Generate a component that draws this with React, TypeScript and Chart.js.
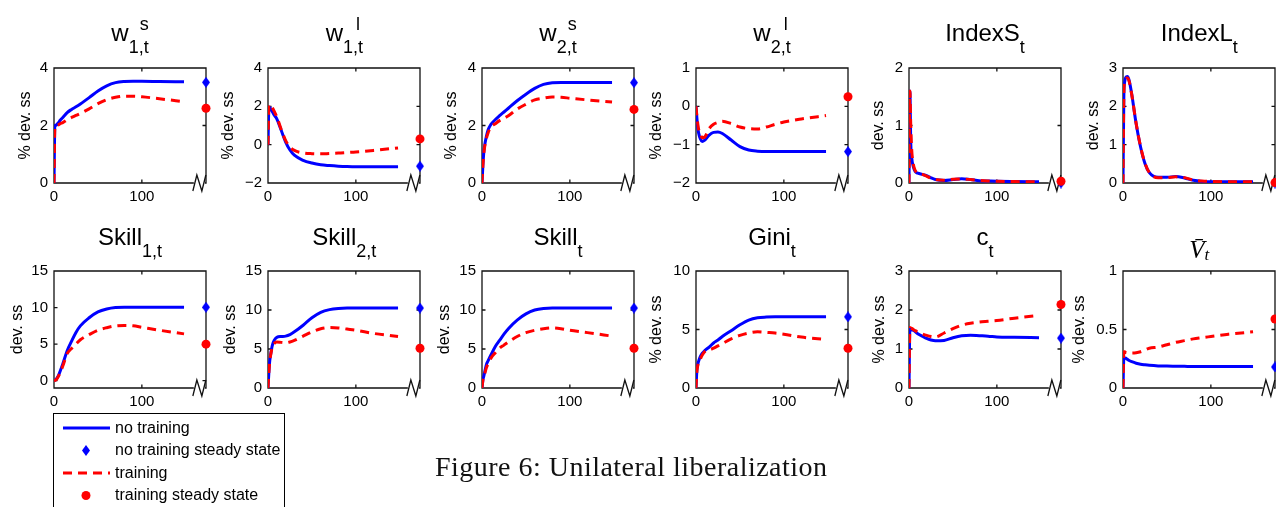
import React, { useEffect, useRef } from 'react';
import { Chart, registerables } from 'chart.js';

Chart.register(...registerables);

// ---------------- data ----------------
const T = [0, 1, 2, 3, 5, 7, 10, 15, 20, 25, 30, 40, 50, 60, 70, 80, 90, 100, 120, 148];
const X_MAX = 173;
const X_BREAK = 166;
const X_TICKS = [0, 100];

const wS1_noTraining = [0, 2.0, 2.0, 2.03, 2.1, 2.18, 2.28, 2.45, 2.56, 2.65, 2.75, 2.97, 3.2, 3.38, 3.49, 3.53, 3.54, 3.54, 3.53, 3.52];
const wS1_training = [0, 1.95, 2.0, 2.0, 2.02, 2.06, 2.1, 2.2, 2.28, 2.35, 2.42, 2.58, 2.76, 2.9, 2.98, 3.02, 3.02, 3.0, 2.93, 2.83];

const wL1_noTraining = [0, 1.9, 1.95, 1.88, 1.72, 1.55, 1.35, 0.75, 0.15, -0.28, -0.55, -0.82, -0.96, -1.05, -1.09, -1.12, -1.14, -1.15, -1.15, -1.15];
const wL1_training = [0, 2.05, 2.1, 2.05, 1.92, 1.75, 1.45, 0.8, 0.22, -0.12, -0.3, -0.43, -0.47, -0.48, -0.46, -0.44, -0.41, -0.38, -0.3, -0.17];

const wS2_noTraining = [0, 0.6, 1.05, 1.3, 1.62, 1.85, 2.03, 2.2, 2.34, 2.47, 2.6, 2.86, 3.09, 3.29, 3.43, 3.49, 3.5, 3.5, 3.5, 3.5];
const wS2_training = [0, 0.6, 1.0, 1.25, 1.55, 1.75, 1.95, 2.06, 2.17, 2.25, 2.34, 2.57, 2.74, 2.89, 2.95, 2.99, 2.98, 2.95, 2.89, 2.82];

const wL2_noTraining = [0, -0.3, -0.55, -0.7, -0.85, -0.92, -0.88, -0.75, -0.68, -0.67, -0.71, -0.88, -1.05, -1.14, -1.17, -1.18, -1.18, -1.18, -1.18, -1.18];
const wL2_training = [0, -0.25, -0.45, -0.6, -0.72, -0.82, -0.8, -0.58, -0.47, -0.42, -0.39, -0.45, -0.54, -0.58, -0.59, -0.54, -0.47, -0.41, -0.33, -0.24];

const indexS_noTraining = [0, 1.6, 0.7, 0.45, 0.28, 0.2, 0.17, 0.15, 0.13, 0.09, 0.06, 0.045, 0.06, 0.075, 0.06, 0.04, 0.035, 0.03, 0.025, 0.02];
const indexS_training = [0, 1.6, 1.0, 0.6, 0.32, 0.22, 0.17, 0.15, 0.12, 0.08, 0.06, 0.05, 0.065, 0.07, 0.06, 0.045, 0.035, 0.03, 0.025, 0.02];

const indexL_noTraining = [0, 2.3, 2.65, 2.75, 2.78, 2.68, 2.31, 1.54, 0.94, 0.51, 0.27, 0.15, 0.15, 0.17, 0.13, 0.07, 0.04, 0.03, 0.03, 0.03];
const indexL_training = [0, 2.35, 2.65, 2.72, 2.74, 2.65, 2.3, 1.55, 0.95, 0.52, 0.27, 0.14, 0.14, 0.16, 0.14, 0.08, 0.05, 0.04, 0.03, 0.03];

const skill1_noTraining = [0, 0.05, 0.15, 0.3, 0.7, 1.3, 2.3, 4.1, 5.4, 6.6, 7.5, 8.6, 9.4, 9.8, 10.0, 10.05, 10.05, 10.05, 10.05, 10.05];
const skill1_training = [0, 0.03, 0.1, 0.2, 0.6, 1.1, 2.0, 3.7, 4.4, 5.0, 5.6, 6.3, 6.9, 7.25, 7.5, 7.55, 7.5, 7.3, 6.9, 6.4];

const skill2_noTraining = [0, 2.0, 3.5, 4.3, 5.5, 6.1, 6.5, 6.6, 6.65, 6.85, 7.2, 8.05, 9.0, 9.7, 10.05, 10.2, 10.25, 10.25, 10.25, 10.25];
const skill2_training = [0, 2.0, 3.4, 4.2, 5.3, 5.7, 5.9, 5.85, 5.8, 5.9, 6.1, 6.65, 7.2, 7.6, 7.75, 7.7, 7.55, 7.4, 7.0, 6.6];

const skill_noTraining = [0, 1.0, 1.5, 2.0, 3.0, 3.5, 4.2, 5.3, 6.1, 6.9, 7.6, 8.7, 9.5, 10.0, 10.2, 10.25, 10.25, 10.25, 10.25, 10.25];
const skill_training = [0, 1.0, 1.4, 1.8, 2.6, 3.1, 3.8, 4.5, 5.1, 5.5, 5.9, 6.6, 7.1, 7.4, 7.6, 7.7, 7.6, 7.4, 7.1, 6.65];

const gini_noTraining = [0, 1.5, 2.0, 2.3, 2.7, 2.95, 3.2, 3.5, 3.85, 4.1, 4.4, 4.9, 5.4, 5.8, 6.0, 6.06, 6.08, 6.08, 6.08, 6.08];
const gini_training = [0, 1.4, 1.9, 2.2, 2.5, 2.8, 3.1, 3.25, 3.4, 3.6, 3.8, 4.2, 4.5, 4.7, 4.8, 4.75, 4.7, 4.6, 4.35, 4.15];

const c_noTraining = [0, 1.5, 1.5, 1.49, 1.48, 1.45, 1.39, 1.33, 1.27, 1.23, 1.21, 1.22, 1.29, 1.34, 1.35, 1.34, 1.33, 1.31, 1.3, 1.29];
const c_training = [0, 1.55, 1.54, 1.53, 1.5, 1.47, 1.44, 1.39, 1.35, 1.32, 1.31, 1.41, 1.52, 1.61, 1.66, 1.69, 1.71, 1.73, 1.79, 1.86];

const v_noTraining = [0, 0.26, 0.258, 0.255, 0.245, 0.235, 0.225, 0.212, 0.203, 0.198, 0.194, 0.189, 0.187, 0.186, 0.185, 0.184, 0.184, 0.183, 0.183, 0.183];
const v_training = [0, 0.31, 0.31, 0.305, 0.302, 0.3, 0.3, 0.302, 0.31, 0.325, 0.34, 0.35, 0.37, 0.39, 0.405, 0.42, 0.43, 0.44, 0.46, 0.48];

const SS_NO_TRAINING = [3.5, -1.12, 3.49, -1.18, 0.0, 0.0, 10.05, 10.25, 10.25, 6.08, 1.28, 0.18];
const SS_TRAINING = [2.6, 0.3, 2.56, 0.25, 0.03, 0.01, 5.0, 5.1, 5.1, 3.4, 2.14, 0.59];

const Y_TICKS = [
  [0, 2, 4], [-2, 0, 2, 4], [0, 2, 4], [-2, -1, 0, 1], [0, 1, 2], [0, 1, 2, 3],
  [0, 5, 10, 15], [0, 5, 10, 15], [0, 5, 10, 15], [0, 5, 10], [0, 1, 2, 3], [0, 0.5, 1],
];
const Y_MIN = [0, -2, 0, -2, 0, 0, -1, 0, 0, 0, 0, 0];
const Y_MAX = [4, 4, 4, 1, 2, 3, 15, 15, 15, 10, 3, 1];
const Y_LABELS = ['% dev. ss', '% dev. ss', '% dev. ss', '% dev. ss', 'dev. ss', 'dev. ss',
  'dev. ss', 'dev. ss', 'dev. ss', '% dev. ss', '% dev. ss', '% dev. ss'];

const TITLES = [
  { base: 'w', sup: 's', sub: '1,t' },
  { base: 'w', sup: 'l', sub: '1,t' },
  { base: 'w', sup: 's', sub: '2,t' },
  { base: 'w', sup: 'l', sub: '2,t' },
  { base: 'IndexS', sub: 't' },
  { base: 'IndexL', sub: 't' },
  { base: 'Skill', sub: '1,t' },
  { base: 'Skill', sub: '2,t' },
  { base: 'Skill', sub: 't' },
  { base: 'Gini', sub: 't' },
  { base: 'c', sub: 't' },
  { base: 'V\u0304', sub: 't', math: true },
];

const BLUE_SERIES = [wS1_noTraining, wL1_noTraining, wS2_noTraining, wL2_noTraining, indexS_noTraining, indexL_noTraining,
  skill1_noTraining, skill2_noTraining, skill_noTraining, gini_noTraining, c_noTraining, v_noTraining];
const RED_SERIES = [wS1_training, wL1_training, wS2_training, wL2_training, indexS_training, indexL_training,
  skill1_training, skill2_training, skill_training, gini_training, c_training, v_training];

const LEGEND_LABELS = ['no training', 'no training steady state', 'training', 'training steady state'];
const CAPTION = 'Figure 6: Unilateral liberalization';

// ---------------- layout / style ----------------
const COL_LEFT = [54, 268.3, 482, 696, 909, 1123.3];
const ROW_TOP = [67, 270];
const ROW_H = [116.3, 118.3];
const PLOT_W = 152;
const Y_AXIS_W = 54;
const TOP_PAD = 14;
const RIGHT_PAD = 8;
const X_AXIS_H = 26;
const YLABEL_GAP = [28.5, 39, 30, 39, 30, 29, 36, 37, 37, 39, 29.5, 43];
const TITLE_BASELINE = [40.5, 245];
const BLUE = '#0000ff';
const RED = '#ff0000';
const SANS = "'Liberation Sans', Arial, Helvetica, sans-serif";
const SERIF = "'Liberation Serif', 'Times New Roman', serif";

let measureCtx: CanvasRenderingContext2D | null = null;
function textWidth(s: string, font: string): number {
  if (!measureCtx) measureCtx = document.createElement('canvas').getContext('2d');
  if (!measureCtx) return s.length * 8;
  measureCtx.font = font;
  return measureCtx.measureText(s).width;
}

function makeDiamond(color: string, w: number, h: number) {
  const c = document.createElement('canvas');
  c.width = w;
  c.height = h;
  const g = c.getContext('2d')!;
  g.fillStyle = color;
  g.beginPath();
  g.moveTo(w / 2, 0);
  g.lineTo(w, h / 2);
  g.lineTo(w / 2, h);
  g.lineTo(0, h / 2);
  g.closePath();
  g.fill();
  return c;
}

const framePlugin = {
  id: 'frame',
  beforeDatasetsDraw(chart: any) {
    const { ctx, chartArea: a, scales } = chart;
    ctx.save();
    ctx.strokeStyle = '#111';
    ctx.lineWidth = 1.3;
    ctx.beginPath();
    ctx.rect(a.left, a.top, a.right - a.left, a.bottom - a.top);
    const tl = 3.5;
    for (const t of scales.y.ticks) {
      const py = scales.y.getPixelForValue(t.value);
      ctx.moveTo(a.left, py); ctx.lineTo(a.left + tl, py);
      ctx.moveTo(a.right, py); ctx.lineTo(a.right - tl, py);
    }
    for (const t of scales.x.ticks) {
      const px = scales.x.getPixelForValue(t.value);
      ctx.moveTo(px, a.bottom); ctx.lineTo(px, a.bottom - tl);
      ctx.moveTo(px, a.top); ctx.lineTo(px, a.top + tl);
    }
    ctx.stroke();
    // axis break mark
    const bx = scales.x.getPixelForValue(X_BREAK);
    ctx.fillStyle = '#fff';
    ctx.fillRect(bx - 6, a.bottom - 2, 11, 4);
    ctx.beginPath();
    ctx.moveTo(bx - 7, a.bottom + 8);
    ctx.lineTo(bx - 3, a.bottom - 8);
    ctx.lineTo(bx + 2, a.bottom + 8);
    ctx.lineTo(bx + 6, a.bottom - 8);
    ctx.stroke();
    ctx.restore();
  },
};

function fmt(v: number) {
  return v < 0 ? '\u2212' + String(Math.abs(v)) : String(v);
}

function Panel({ idx }: { idx: number }) {
  const ref = useRef<HTMLCanvasElement>(null);
  const row = Math.floor(idx / 6);
  const col = idx % 6;
  const plotLeft = COL_LEFT[col];
  const plotTop = ROW_TOP[row];
  const plotH = ROW_H[row];
  const cw = Math.round(Y_AXIS_W + PLOT_W + RIGHT_PAD);
  const ch = Math.round(TOP_PAD + plotH + X_AXIS_H);

  useEffect(() => {
    if (!ref.current) return;
    const diamond = makeDiamond(BLUE, 8, 11);
    const yTicks = Y_TICKS[idx];
    const chart = new Chart(ref.current, {
      type: 'line',
      data: {
        datasets: [
          {
            label: LEGEND_LABELS[3],
            data: [{ x: X_MAX, y: SS_TRAINING[idx] }],
            showLine: false,
            pointStyle: 'circle',
            pointRadius: 4.5,
            pointBackgroundColor: RED,
            pointBorderColor: RED,
            pointBorderWidth: 0,
            clip: false,
            order: 0,
          } as any,
          {
            label: LEGEND_LABELS[1],
            data: [{ x: X_MAX, y: SS_NO_TRAINING[idx] }],
            showLine: false,
            pointStyle: diamond,
            pointRadius: 5,
            clip: false,
            order: 1,
          } as any,
          {
            label: LEGEND_LABELS[2],
            data: T.map((t, i) => ({ x: t, y: RED_SERIES[idx][i] })),
            borderColor: RED,
            borderWidth: 3,
            borderDash: [9, 6],
            pointRadius: 0,
            cubicInterpolationMode: 'monotone',
            fill: false,
            order: 2,
          } as any,
          {
            label: LEGEND_LABELS[0],
            data: T.map((t, i) => ({ x: t, y: BLUE_SERIES[idx][i] })),
            borderColor: BLUE,
            borderWidth: 3,
            pointRadius: 0,
            cubicInterpolationMode: 'monotone',
            fill: false,
            order: 3,
          } as any,
        ],
      },
      options: {
        animation: false,
        responsive: false,
        maintainAspectRatio: false,
        events: [],
        layout: { padding: { top: TOP_PAD, right: RIGHT_PAD, left: 0, bottom: 0 } },
        plugins: { legend: { display: false }, tooltip: { enabled: false }, title: { display: false } },
        scales: {
          x: {
            type: 'linear',
            min: 0,
            max: X_MAX,
            grid: { display: false, drawTicks: false },
            border: { display: false },
            afterBuildTicks: (s: any) => { s.ticks = X_TICKS.map((v) => ({ value: v })); },
            afterFit: (s: any) => { s.height = X_AXIS_H; },
            ticks: {
              autoSkip: false,
              maxRotation: 0,
              padding: 5,
              color: '#000',
              font: { family: SANS, size: 15 },
              callback: (v: any) => fmt(Number(v)),
            },
          },
          y: {
            type: 'linear',
            min: Y_MIN[idx],
            max: Y_MAX[idx],
            grid: { display: false, drawTicks: false },
            border: { display: false },
            afterBuildTicks: (s: any) => { s.ticks = yTicks.map((v) => ({ value: v })); },
            afterFit: (s: any) => { s.width = Y_AXIS_W; },
            ticks: {
              autoSkip: false,
              padding: 6,
              color: '#000',
              font: { family: SANS, size: 15 },
              callback: (v: any) => fmt(Number(v)),
            },
            title: {
              display: true,
              text: Y_LABELS[idx],
              color: '#000',
              font: { family: SANS, size: 16 },
              padding: { top: Math.max(0, Y_AXIS_W - YLABEL_GAP[idx] - 9.6), bottom: 0 },
            },
          },
        },
      } as any,
      plugins: [framePlugin],
    });
    return () => chart.destroy();
  }, [idx]);

  return (
    <canvas
      ref={ref}
      width={cw}
      height={ch}
      style={{
        position: 'absolute',
        left: plotLeft - Y_AXIS_W,
        top: plotTop - TOP_PAD,
        width: cw,
        height: ch,
      }}
    />
  );
}

function Title({ idx }: { idx: number }) {
  const t: any = TITLES[idx];
  const row = Math.floor(idx / 6);
  const col = idx % 6;
  const cx = COL_LEFT[col] + PLOT_W / 2;
  const baseline = TITLE_BASELINE[row];
  if (t.math) {
    const vw = textWidth('V', `italic 25px ${SERIF}`);
    const tw = textWidth(t.sub, `italic 17px ${SERIF}`);
    const x0 = cx - (vw + tw) / 2;
    return (
      <text x={x0} y={baseline + 13} fontFamily={SERIF} fontStyle="italic" fontSize={25} fill="#000">
        {t.base}
        <tspan fontSize={17} dy={2}>{t.sub}</tspan>
      </text>
    );
  }
  const bw = textWidth(t.base, `24px ${SANS}`);
  const subW = t.sub ? textWidth(t.sub, `18px ${SANS}`) : 0;
  const supW = t.sup ? textWidth(t.sup, `18px ${SANS}`) : 0;
  const supOff = t.sup === 's' ? 11 : 13;
  const total = bw + Math.max(subW, t.sup ? supOff + supW : 0);
  const x0 = cx - total / 2;
  return (
    <text x={x0} y={baseline} fontFamily={SANS} fontSize={24} fill="#000">
      {t.base}
      {t.sub && <tspan fontSize={18} dy={12}>{t.sub}</tspan>}
      {t.sup && <tspan fontSize={18} x={x0 + bw + supOff} dy={-23}>{t.sup}</tspan>}
    </text>
  );
}

function Legend() {
  const baselines = [432.5, 455, 477.5, 500];
  const sx = 86;
  return (
    <g>
      <rect x={53.5} y={413.5} width={231} height={120} fill="#fff" stroke="#000" strokeWidth={1} />
      <line x1={63} x2={110} y1={baselines[0] - 4.5} y2={baselines[0] - 4.5} stroke={BLUE} strokeWidth={3} />
      <path
        d={`M${sx} ${baselines[1] - 10} L${sx + 4} ${baselines[1] - 4.5} L${sx} ${baselines[1] + 1} L${sx - 4} ${baselines[1] - 4.5} Z`}
        fill={BLUE}
      />
      <line x1={63} x2={110} y1={baselines[2] - 4.5} y2={baselines[2] - 4.5} stroke={RED} strokeWidth={3} strokeDasharray="9 6" />
      <circle cx={sx} cy={baselines[3] - 4.5} r={4.5} fill={RED} />
      {LEGEND_LABELS.map((l, i) => (
        <text key={l} x={115} y={baselines[i]} fontFamily={SANS} fontSize={16} fill="#000">{l}</text>
      ))}
    </g>
  );
}

export default function App() {
  const idxs = Array.from({ length: 12 }, (_, i) => i);
  return (
    <div
      style={{
        position: 'fixed',
        left: 0,
        top: 0,
        width: 1276,
        height: 507,
        overflow: 'hidden',
        background: '#fff',
      }}
    >
      {idxs.map((i) => <Panel key={i} idx={i} />)}
      <svg width={1276} height={507} style={{ position: 'absolute', left: 0, top: 0, pointerEvents: 'none' }}>
        {idxs.map((i) => <Title key={i} idx={i} />)}
        <Legend />
        <text
          x={631}
          y={476}
          fontFamily={SERIF}
          fontSize={28}
          textAnchor="middle"
          textLength={392}
          lengthAdjust="spacing"
          fill="#111"
        >
          {CAPTION}
        </text>
      </svg>
    </div>
  );
}
